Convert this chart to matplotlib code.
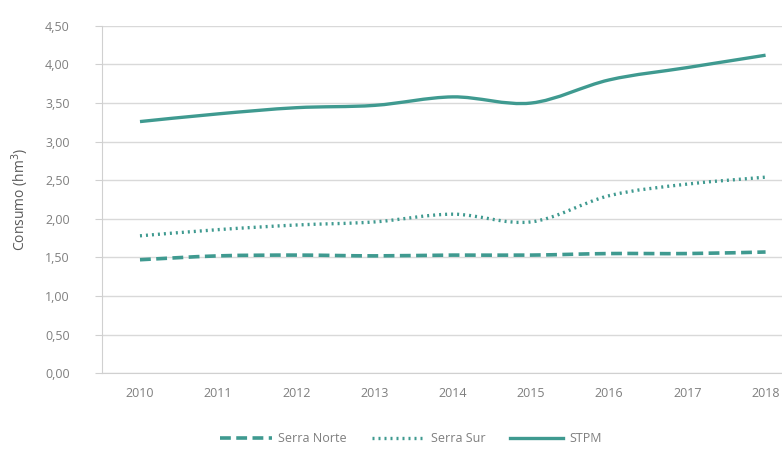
import numpy as np
import matplotlib.pyplot as plt
from matplotlib.path import Path
from matplotlib.patches import PathPatch
from matplotlib.lines import Line2D

years = ['2010', '2011', '2012', '2013', '2014', '2015', '2016', '2017', '2018']
serra_norte = [1.47, 1.52, 1.53, 1.52, 1.53, 1.53, 1.55, 1.55, 1.57]
serra_sur = [1.78, 1.86, 1.92, 1.96, 2.06, 1.96, 2.30, 2.45, 2.54]
stpm = [3.26, 3.36, 3.44, 3.47, 3.58, 3.50, 3.80, 3.96, 4.12]

teal = '#3f9a90'
gray_txt = '#7f7f7f'


def smooth_path(x, y):
    # Excel-style smoothed line: cubic Bezier through the data points
    pts = np.column_stack([x, y]).astype(float)
    verts = [pts[0]]
    codes = [Path.MOVETO]
    n = len(pts)
    for i in range(n - 1):
        p0 = pts[max(i - 1, 0)]
        p1 = pts[i]
        p2 = pts[i + 1]
        p3 = pts[min(i + 2, n - 1)]
        c1 = p1 + (p2 - p0) / 6.0
        c2 = p2 - (p3 - p1) / 6.0
        verts += [c1, c2, p2]
        codes += [Path.CURVE4] * 3
    return Path(verts, codes)


plt.rcParams['font.family'] = ['Open Sans', 'DejaVu Sans']

fig = plt.figure(figsize=(7.82, 4.54), dpi=100)
ax = fig.add_axes([0.130, 0.178, 0.870, 0.765])

x = np.arange(len(years))
series = [
    ('Serra Norte', serra_norte, (0, (3, 1.5)), 2.6),
    ('Serra Sur', serra_sur, (0, (0.6, 1.2)), 2.4),
    ('STPM', stpm, '-', 2.4),
]
handles = []
for name, vals, ls, lw in series:
    patch = PathPatch(smooth_path(x, vals), facecolor='none', edgecolor=teal,
                      linewidth=lw, linestyle=ls, capstyle='butt')
    ax.add_patch(patch)
    handles.append(Line2D([], [], color=teal, linewidth=lw, linestyle=ls,
                          label=name))

ax.set_ylim(0, 4.5)
ax.set_xlim(-0.49, 8.21)
ax.set_yticks(np.arange(0, 4.51, 0.5))
ax.set_yticklabels([f'{v:.2f}'.replace('.', ',') for v in np.arange(0, 4.51, 0.5)])
ax.set_xticks(x)
ax.set_xticklabels(years)

ax.grid(axis='y', color='#d9d9d9', linewidth=1)
ax.set_axisbelow(True)
for s in ['top', 'right']:
    ax.spines[s].set_visible(False)
ax.spines['left'].set_color('#d0d0d0')
ax.spines['bottom'].set_color('#d0d0d0')
ax.tick_params(axis='y', colors=gray_txt, labelsize=9, length=5, color='#d0d0d0', pad=18)
ax.tick_params(axis='x', colors=gray_txt, labelsize=9, length=0, pad=10)

ax.set_ylabel('Consumo (hm$^3$)', fontsize=10, color='#595959', labelpad=10)

fig.legend(handles=handles, loc='lower center', bbox_to_anchor=(0.525, -0.005),
           ncol=3, frameon=False, fontsize=9, labelcolor=gray_txt,
           handlelength=4.2, columnspacing=2.0, handletextpad=0.5)

fig.savefig('out.png', dpi=100)
